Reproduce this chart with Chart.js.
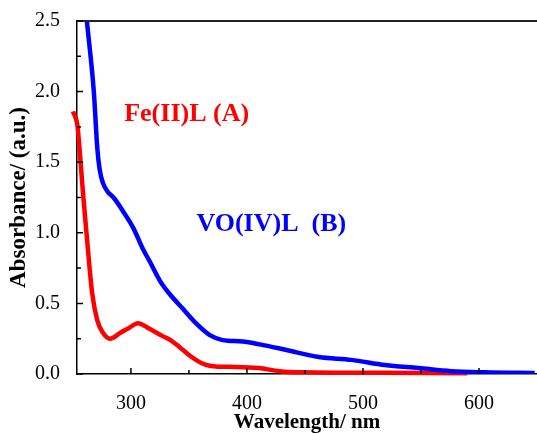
<!DOCTYPE html>
<html lang="en">
<head>
    <meta charset="UTF-8">
    <title>Absorbance spectra</title>
    <script src="https://cdn.jsdelivr.net/npm/chart.js"></script>
    <style>
        html, body { margin: 0; padding: 0; background: #fff; }
        #wrap { width: 537px; height: 433px; }
    </style>
</head>
<body>
    <div id="wrap"><canvas id="specChart"></canvas></div>
    <script>
        // VO(IV)L (B) spectrum
        const vWave = [262, 268, 271, 273, 276, 280, 285, 293, 302, 310, 316, 325, 333, 345, 356, 368, 379, 396, 411, 434, 462, 490, 519, 548, 576, 605, 648];
        const vAbs = [2.5, 2.0, 1.6, 1.45, 1.35, 1.29, 1.25, 1.155, 1.035, 0.89, 0.80, 0.66, 0.57, 0.46, 0.36, 0.275, 0.24, 0.23, 0.21, 0.17, 0.12, 0.10, 0.063, 0.042, 0.02, 0.012, 0.007];

        // Fe(II)L (A) spectrum
        const feWave = [250, 253.7, 254.6, 259, 262.3, 266.6, 271, 276, 282, 290.6, 299, 306, 316, 327, 335, 342, 350, 357, 363, 368, 375, 391, 410, 428, 447, 520, 590];
        const feAbs = [1.86, 1.77, 1.70, 1.25, 0.94, 0.57, 0.38, 0.29, 0.25, 0.29, 0.33, 0.36, 0.32, 0.27, 0.235, 0.19, 0.135, 0.095, 0.07, 0.058, 0.052, 0.05, 0.042, 0.02, 0.012, 0.008, 0.006];

        const xTicks = [300, 400, 500, 600];
        const xMinor = [350, 450, 550];
        const yTicks = [0, 0.5, 1.0, 1.5, 2.0, 2.5];
        const yMinor = [0.25, 0.75, 1.25, 1.75, 2.25];

        const labelTexts = ['Fe(II)L (A)', 'VO(IV)L  (B)'];
        const labelAt = [[348, 1.84], [421, 1.06]];
        const labelColors = ['#ff0000', '#0000ff'];

        const toPoints = (xs, ys) => xs.map((x, i) => ({ x: x, y: ys[i] }));

        // inward ticks, top frame line and the in-plot labels
        const decor = {
            id: 'decor',
            afterDraw(chart) {
                const ctx = chart.ctx;
                const xs = chart.scales.x, ys = chart.scales.y;
                const a = chart.chartArea;
                ctx.save();
                ctx.strokeStyle = '#222';
                ctx.lineWidth = 2;
                ctx.beginPath();
                ctx.moveTo(a.left, a.top);
                ctx.lineTo(a.right, a.top);
                ctx.stroke();
                ctx.strokeStyle = '#000';
                ctx.lineWidth = 1.5;
                ctx.beginPath();
                xTicks.forEach(v => { const p = xs.getPixelForValue(v); ctx.moveTo(p, a.bottom); ctx.lineTo(p, a.bottom - 6); });
                xMinor.forEach(v => { const p = xs.getPixelForValue(v); ctx.moveTo(p, a.bottom); ctx.lineTo(p, a.bottom - 4); });
                yTicks.forEach(v => { const p = ys.getPixelForValue(v); ctx.moveTo(a.left, p); ctx.lineTo(a.left + 6, p); });
                yMinor.forEach(v => { const p = ys.getPixelForValue(v); ctx.moveTo(a.left, p); ctx.lineTo(a.left + 4, p); });
                ctx.stroke();

                ctx.font = 'bold 26px "Liberation Serif", serif';
                ctx.textAlign = 'center';
                ctx.textBaseline = 'middle';
                labelTexts.forEach((t, i) => {
                    ctx.fillStyle = labelColors[i];
                    ctx.fillText(t, xs.getPixelForValue(labelAt[i][0]), ys.getPixelForValue(labelAt[i][1]));
                });
                ctx.restore();
            }
        };

        const serif = '"Liberation Serif", "Times New Roman", serif';

        new Chart(document.getElementById('specChart'), {
            type: 'line',
            data: {
                datasets: [{
                    label: 'VO(IV)L (B)',
                    data: toPoints(vWave, vAbs),
                    borderColor: '#0000ff',
                    borderWidth: 4.5,
                    pointRadius: 0,
                    cubicInterpolationMode: 'monotone',
                    fill: false
                }, {
                    label: 'Fe(II)L (A)',
                    data: toPoints(feWave, feAbs),
                    borderColor: '#ff0000',
                    borderWidth: 4.5,
                    pointRadius: 0,
                    cubicInterpolationMode: 'monotone',
                    fill: false,
                    clip: false
                }]
            },
            options: {
                responsive: true,
                maintainAspectRatio: false,
                animation: false,
                layout: { padding: { top: 19, right: 0, left: 0, bottom: 0 } },
                plugins: { legend: { display: false }, tooltip: { enabled: false } },
                scales: {
                    x: {
                        type: 'linear',
                        min: 253.5,
                        max: 650,
                        afterBuildTicks: s => { s.ticks = xTicks.map(v => ({ value: v })); },
                        afterFit: s => { s.height = 59; },
                        grid: { display: false },
                        border: { display: true, color: '#000', width: 1.5 },
                        ticks: { color: '#000', padding: 10, maxRotation: 0, font: { family: serif, size: 20 } },
                        title: {
                            display: true,
                            text: 'Wavelength/ nm',
                            color: '#000',
                            padding: { top: 0, bottom: 0 },
                            font: { family: serif, size: 21, weight: 'bold', lineHeight: 1 }
                        }
                    },
                    y: {
                        min: 0,
                        max: 2.5,
                        afterBuildTicks: s => { s.ticks = yTicks.map(v => ({ value: v })); },
                        afterFit: s => { s.width = 77; },
                        grid: { display: false },
                        border: { display: true, color: '#000', width: 1.5 },
                        ticks: { color: '#000', padding: 9, font: { family: serif, size: 20 }, callback: v => v.toFixed(1) },
                        title: {
                            display: true,
                            text: 'Absorbance/ (a.u.)',
                            color: '#000',
                            padding: { top: 8, bottom: 8 },
                            font: { family: serif, size: 23, weight: 'bold', lineHeight: 1 }
                        }
                    }
                }
            },
            plugins: [decor]
        });
    </script>
</body>
</html>
